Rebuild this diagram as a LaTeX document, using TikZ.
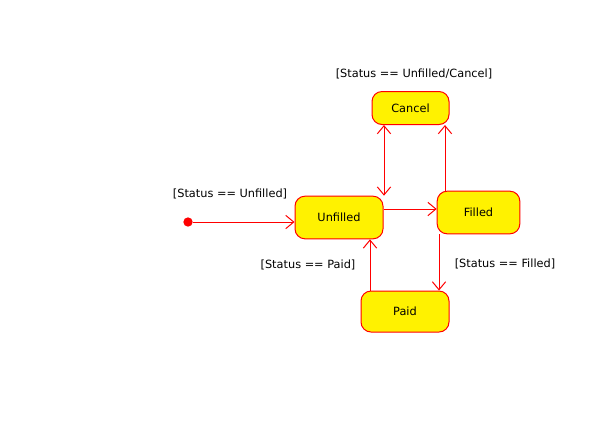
\documentclass[tikz,border=0pt]{standalone}
\usepackage{fontspec}
\setmainfont{DejaVu Sans}
\usetikzlibrary{arrows.meta}
\begin{document}
\begin{tikzpicture}[x=0.75pt,y=-0.75pt,
  state/.style={draw=red, line width=0.75pt, fill=yellow, rounded corners=7.5pt, inner sep=0pt, font=\fontsize{8.5}{10}\selectfont},
  lbl/.style={inner sep=0pt, font=\fontsize{8.5}{10}\selectfont},
  arr/.style={draw=red, line width=0.75pt, -{Straight Barb[length=6pt,width=10pt,line width=0.75pt]}},
  arrb/.style={draw=red, line width=0.75pt, {Straight Barb[length=6pt,width=10pt,line width=0.75pt]}-{Straight Barb[length=6pt,width=10pt,line width=0.75pt]}}]
\useasboundingbox[fill=white] (0,0) rectangle (610,430);
\node[state, minimum width=66pt, minimum height=32pt] (Unfilled) at (339,217.5) {Unfilled};
\node[state, minimum width=62pt, minimum height=32pt] (Filled) at (478.5,212.5) {Filled};
\node[state, minimum width=57.75pt, minimum height=24.75pt] (Cancel) at (410.5,108) {Cancel};
\node[state, minimum width=66pt, minimum height=30.75pt] (Paid) at (405,311.5) {Paid};
\node[circle, fill=red, inner sep=0pt, minimum size=7pt] (init) at (188,222) {};
\coordinate (xa) at (384,0);
\coordinate (xb) at (445,0);
\coordinate (xc) at (439,0);
\coordinate (xd) at (370,0);
\coordinate (ya) at (0,209);
\coordinate (yb) at (0,221);
\draw[arr] (init) -- (Unfilled.west |- init);
\draw[arr] (Unfilled.east |- ya) -- (Filled.west |- ya);
\draw[arrb] (Cancel.south -| xa) -- (Unfilled.north -| xa);
\draw[arr] (Filled.north -| xb) -- (Cancel.south -| xb);
\draw[arr] (Filled.south -| xc) -- (Paid.north -| xc);
\draw[arr] (Paid.north -| xd) -- (Unfilled.south -| xd);
\node[lbl] (l1) at (414,74) {[Status == Unfilled/Cancel]};
\node[lbl] (l2) at (230,194) {[Status == Unfilled]};
\node[lbl] (l3) at (308,265) {[Status == Paid]};
\node[lbl] (l4) at (505,264) {[Status == Filled]};
\end{tikzpicture}
\end{document}
